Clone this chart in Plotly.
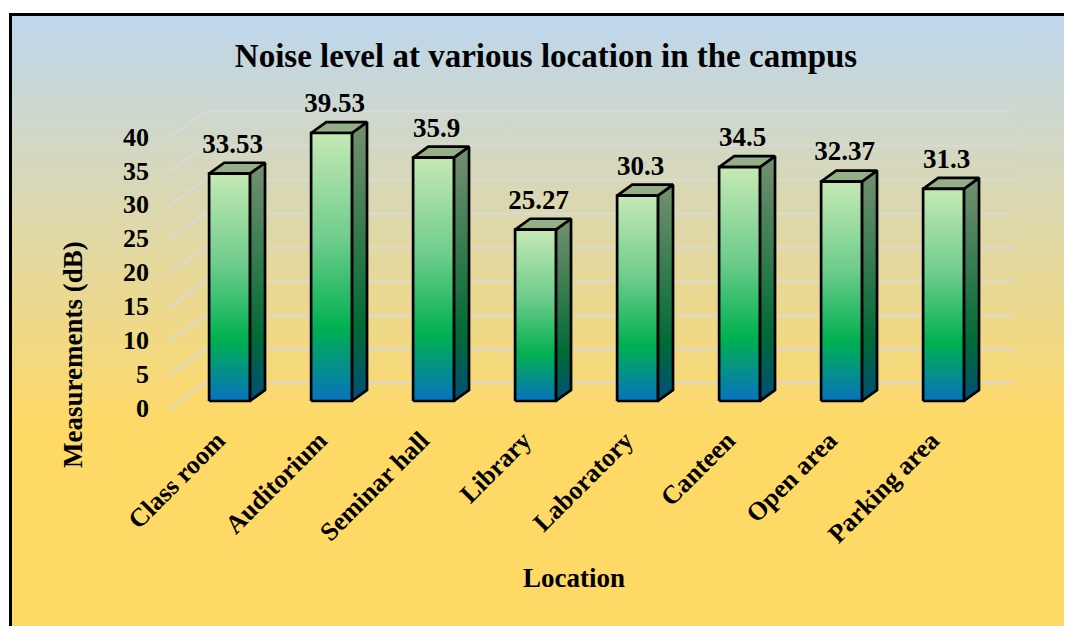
import plotly.graph_objects as go

# ---------------- data ----------------
categories = ["Class room", "Auditorium", "Seminar hall", "Library",
              "Laboratory", "Canteen", "Open area", "Parking area"]
values = [33.53, 39.53, 35.9, 25.27, 30.3, 34.5, 32.37, 31.3]
value_labels = ["33.53", "39.53", "35.9", "25.27", "30.3", "34.5", "32.37", "31.3"]
y_ticks = [0, 5, 10, 15, 20, 25, 30, 35, 40]

title_text = "Noise level at various location in the campus"
x_title = "Location"
y_title = "Measurements (dB)"

# ---------------- geometry / style ----------------
OFF = 8.0                            # page body margin (screen px -> div px)
W, H = 1072 - int(OFF), 626 - int(OFF)   # figure fits the window exactly


def dx(p):  # screen x pixel -> div pixel
    return p - OFF


def dy(p):  # screen y pixel -> div pixel
    return p - OFF


PX_CAT, PX_VAL = 102.0, 6.78       # pixels per category / per dB
X0PX, Y0PX = dx(229.5), dy(401.0)  # pixel of category 0 / of value 0 (bar front)
XR = [(0 - X0PX) / PX_CAT, (W - X0PX) / PX_CAT]
YR = [(Y0PX - H) / PX_VAL, Y0PX / PX_VAL]

OX, OY = 36.0 / PX_CAT, 26.0 / PX_VAL   # oblique depth vector (full depth)
D0, D1 = 0.31, 0.73                    # bar front / back depth
HALF = 0.2                             # half bar width (category units)
GRID_L, GRID_R = -0.484, 7.44

FONT = "Liberation Serif"

front_scale = [[0, "#0872BE"], [0.27, "#00B050"], [0.6, "#6ECC8C"], [1, "#C6E9B5"]]
side_scale = [[0, "#004F78"], [0.27, "#006B35"], [1, "#75906F"]]
top_color = "#94AF87"


def proj(x, v, d):
    return x + (d - D0) * OX, v + (d - D0) * OY


fig = go.Figure()

# background gradient (paper-like axes x/y)
bx0 = dx(10) / W
by1 = 1 - dy(14) / H
fig.add_trace(go.Scatter(
    x=[bx0, 1, 1, bx0, bx0], y=[0, 0, by1, by1, 0],
    mode="lines", line=dict(width=0), fill="toself",
    fillgradient=dict(type="vertical",
                      colorscale=[[0, "#FFD966"], [1, "#BDD7EE"]],
                      start=1 - dy(430) / H, stop=by1),
    hoverinfo="skip", showlegend=False, xaxis="x", yaxis="y"))

# gridlines (oblique)
gx, gy = [], []
for t in y_ticks:
    for (xx, dd) in [(GRID_L, 0), (GRID_L, 1), (GRID_R, 1)]:
        px, py = proj(xx, t, dd)
        gx.append(px)
        gy.append(py)
    gx.append(None)
    gy.append(None)
fig.add_trace(go.Scatter(x=gx, y=gy, mode="lines",
                         line=dict(color="#D9D9D9", width=2),
                         hoverinfo="skip", showlegend=False,
                         xaxis="x2", yaxis="y2"))

# 3D bars
for i, v in enumerate(values):
    xl, xr = i - HALF, i + HALF
    faces = [
        ([(xr, 0, D0), (xr, 0, D1), (xr, v, D1), (xr, v, D0)], "side"),
        ([(xl, v, D0), (xr, v, D0), (xr, v, D1), (xl, v, D1)], "top"),
        ([(xl, 0, D0), (xr, 0, D0), (xr, v, D0), (xl, v, D0)], "front"),
    ]
    for pts, kind in faces:
        xs, ys = zip(*[proj(*p) for p in pts])
        xs = list(xs) + [xs[0]]
        ys = list(ys) + [ys[0]]
        kw = {}
        if kind == "front":
            kw["fillgradient"] = dict(type="vertical", colorscale=front_scale)
        elif kind == "side":
            kw["fillgradient"] = dict(type="vertical", colorscale=side_scale)
        else:
            kw["fillcolor"] = top_color
        fig.add_trace(go.Scatter(x=xs, y=ys, mode="lines", fill="toself",
                                 line=dict(color="black", width=2.7),
                                 hoverinfo="skip", showlegend=False,
                                 xaxis="x2", yaxis="y2", **kw))

# value labels
fig.add_trace(go.Scatter(
    x=[i + 0.03 for i in range(len(values))],
    y=[v + 4.1 for v in values],
    text=value_labels, mode="text", textposition="middle center",
    textfont=dict(family=FONT, size=27, color="black", weight="bold"),
    hoverinfo="skip", showlegend=False, xaxis="x2", yaxis="y2"))

# dummy trace for tick-label axes
fig.add_trace(go.Scatter(x=[None], y=[None], mode="markers",
                         showlegend=False, hoverinfo="skip",
                         xaxis="x3", yaxis="y3"))

YSHIFT = 1.0
fig.update_layout(
    width=W, height=H,
    margin=dict(l=0, r=0, t=0, b=0),
    paper_bgcolor="white", plot_bgcolor="rgba(0,0,0,0)",
    showlegend=False,
    title=dict(text=title_text, x=dx(546) / W, y=1 - dy(55) / H,
               xanchor="center", yanchor="middle",
               font=dict(family=FONT, size=33, color="black", weight="bold")),
    xaxis=dict(domain=[0, 1], range=[0, 1], visible=False, fixedrange=True),
    yaxis=dict(domain=[0, 1], range=[0, 1], visible=False, fixedrange=True),
    xaxis2=dict(overlaying="x", range=XR, visible=False, fixedrange=True),
    yaxis2=dict(overlaying="y", range=YR, visible=False, fixedrange=True),
    xaxis3=dict(overlaying="x", anchor="free", position=1 - dy(419) / H,
                range=XR, tickmode="array", tickvals=list(range(len(categories))),
                ticktext=categories, tickangle=-45, showgrid=False,
                zeroline=False, showline=False, ticks="", ticklabelshift=-12,
                tickfont=dict(family=FONT, size=26, color="black", weight="bold"),
                fixedrange=True),
    yaxis3=dict(overlaying="y", anchor="free", position=dx(149) / W, side="left",
                range=[YR[0] + YSHIFT, YR[1] + YSHIFT], tickmode="array",
                tickvals=y_ticks, ticktext=[str(t) for t in y_ticks],
                showgrid=False, zeroline=False, showline=False, ticks="",
                tickfont=dict(family=FONT, size=26, color="black", weight="bold"),
                fixedrange=True),
    annotations=[
        dict(text=y_title, xref="paper", yref="paper", x=dx(73) / W, y=1 - dy(355) / H,
             textangle=-90, showarrow=False, xanchor="center", yanchor="middle",
             font=dict(family=FONT, size=27, color="black", weight="bold")),
        dict(text=x_title, xref="paper", yref="paper", x=dx(574) / W, y=1 - dy(578) / H,
             showarrow=False, xanchor="center", yanchor="middle",
             font=dict(family=FONT, size=27, color="black", weight="bold")),
    ],
    shapes=[
        dict(type="path", xref="paper", yref="paper",
             path=f"M {dx(10.5) / W},0 L {dx(10.5) / W},{1 - dy(14.5) / H} L 1,{1 - dy(14.5) / H}",
             line=dict(color="black", width=3), layer="above"),
    ],
)

fig.write_html("out.html")
